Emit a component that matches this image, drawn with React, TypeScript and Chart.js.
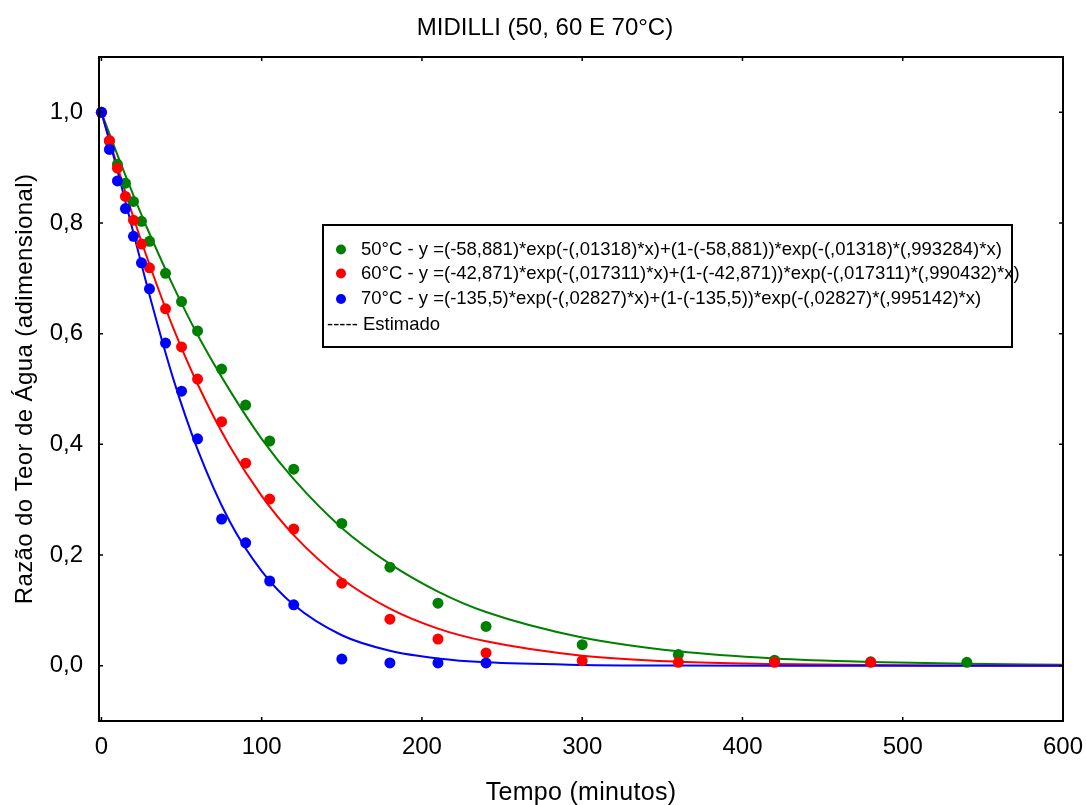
import React, { useEffect, useRef } from "react";
import { Chart, registerables } from "chart.js";

Chart.register(...registerables);

// ---- Text ----
const chartTitle = "MIDILLI (50, 60 E 70°C)";
const xAxisTitle = "Tempo (minutos)";
const yAxisTitle = "Razão do Teor de Água (adimensional)";
const legendLabels = [
  "50°C - y =(-58,881)*exp(-(,01318)*x)+(1-(-58,881))*exp(-(,01318)*(,993284)*x)",
  "60°C - y =(-42,871)*exp(-(,017311)*x)+(1-(-42,871))*exp(-(,017311)*(,990432)*x)",
  "70°C - y =(-135,5)*exp(-(,02827)*x)+(1-(-135,5))*exp(-(,02827)*(,995142)*x)",
];
const estimadoLabel = "----- Estimado";

// ---- Ticks ----
const xTicks = [0, 100, 200, 300, 400, 500, 600];
const yTicks = [0, 0.2, 0.4, 0.6, 0.8, 1.0];

// ---- Observed data ----
const time50 = [0, 5, 10, 15, 20, 25, 30, 40, 50, 60, 75, 90, 105, 120, 150, 180, 210, 240, 300, 360, 420, 480, 540];
const ratio50 = [1.0, 0.948, 0.906, 0.872, 0.839, 0.803, 0.767, 0.709, 0.658, 0.605, 0.536, 0.471, 0.406, 0.355, 0.257, 0.178, 0.113, 0.071, 0.038, 0.020, 0.010, 0.007, 0.006];

const time60 = [0, 5, 10, 15, 20, 25, 30, 40, 50, 60, 75, 90, 105, 120, 150, 180, 210, 240, 300, 360, 420, 480];
const ratio60 = [1.0, 0.949, 0.899, 0.848, 0.805, 0.762, 0.719, 0.645, 0.576, 0.518, 0.441, 0.366, 0.301, 0.247, 0.149, 0.084, 0.048, 0.023, 0.009, 0.006, 0.006, 0.006];

const time70 = [0, 5, 10, 15, 20, 25, 30, 40, 50, 60, 75, 90, 105, 120, 150, 180, 210, 240];
const ratio70 = [1.0, 0.933, 0.876, 0.826, 0.776, 0.728, 0.681, 0.583, 0.496, 0.410, 0.265, 0.222, 0.153, 0.110, 0.012, 0.005, 0.005, 0.005];

// ---- Estimated (fitted) curves ----
const fitTime = [0, 10, 20, 30, 45, 60, 80, 100, 120, 150, 180, 210, 240, 300, 360, 420, 480, 540, 600];
const fit50 = [1.0, 0.923, 0.850, 0.781, 0.685, 0.598, 0.498, 0.410, 0.337, 0.249, 0.184, 0.134, 0.097, 0.051, 0.026, 0.013, 0.0067, 0.0033, 0.0016];
const fit60 = [1.0, 0.902, 0.810, 0.725, 0.609, 0.509, 0.397, 0.307, 0.236, 0.157, 0.103, 0.067, 0.044, 0.018, 0.007, 0.003, 0.001, 0.0004, 0.0002];
const fit70 = [1.0, 0.895, 0.782, 0.670, 0.517, 0.391, 0.261, 0.171, 0.110, 0.055, 0.027, 0.013, 0.006, 0.0014, 0.0003, 0.0, 0.0, 0.0, 0.0];

const colors = ["#008000", "#ff0000", "#0000ff"];
const FONT = "'Liberation Sans', Arial, sans-serif";

const toXY = (xs: number[], ys: number[]) => xs.map((x, i) => ({ x, y: ys[i] }));

const frameAndLegendPlugin = {
  id: "frameAndLegend",
  afterDraw(chart: any) {
    const { ctx, chartArea, scales } = chart;
    const { left, right, top, bottom } = chartArea;
    ctx.save();
    // inward ticks
    ctx.strokeStyle = "#000";
    ctx.lineWidth = 1.5;
    const tl = 4;
    ctx.beginPath();
    xTicks.forEach((v) => {
      const px = scales.x.getPixelForValue(v);
      ctx.moveTo(px, bottom);
      ctx.lineTo(px, bottom - tl);
      ctx.moveTo(px, top);
      ctx.lineTo(px, top + tl);
    });
    yTicks.forEach((v) => {
      const py = scales.y.getPixelForValue(v);
      ctx.moveTo(left, py);
      ctx.lineTo(left + tl, py);
      ctx.moveTo(right, py);
      ctx.lineTo(right - tl, py);
    });
    ctx.stroke();
    // frame
    ctx.lineWidth = 2;
    ctx.strokeRect(left, top, right - left, bottom - top);

    // titles
    ctx.fillStyle = "#000";
    ctx.textBaseline = "middle";
    ctx.textAlign = "center";
    ctx.font = `24px ${FONT}`;
    (ctx as any).letterSpacing = "0px";
    ctx.fillText(chartTitle, 545, 28);

    ctx.font = `25px ${FONT}`;
    (ctx as any).letterSpacing = "0.3px";
    ctx.fillText(xAxisTitle, (left + right) / 2, 793);

    ctx.save();
    ctx.translate(25, (top + bottom) / 2);
    ctx.rotate(-Math.PI / 2);
    ctx.font = `24px ${FONT}`;
    (ctx as any).letterSpacing = "0.4px";
    ctx.fillText(yAxisTitle, 0, 0);
    ctx.restore();
    (ctx as any).letterSpacing = "0px";

    // legend box
    const bx = left + 224;
    const by = top + 168;
    const bw = 689;
    const bh = 122;
    ctx.fillStyle = "#fff";
    ctx.fillRect(bx, by, bw, bh);
    ctx.font = `18.5px ${FONT}`;
    ctx.textBaseline = "middle";
    ctx.textAlign = "left";
    const rowY = [24.5, 48.5, 74];
    legendLabels.forEach((label, i) => {
      const cy = by + rowY[i];
      ctx.fillStyle = colors[i];
      ctx.beginPath();
      ctx.arc(bx + 18, cy, 5, 0, Math.PI * 2);
      ctx.fill();
      ctx.fillStyle = "#000";
      ctx.fillText(label, bx + 38, cy);
    });
    ctx.fillStyle = "#000";
    ctx.fillText(estimadoLabel, bx + 4, by + 100);
    ctx.strokeStyle = "#000";
    ctx.lineWidth = 2;
    ctx.strokeRect(bx, by, bw, bh);
    ctx.restore();
  },
};

export default function App() {
  const canvasRef = useRef<HTMLCanvasElement | null>(null);

  useEffect(() => {
    if (!canvasRef.current) return;
    const pointSets = [
      { t: time50, r: ratio50 },
      { t: time60, r: ratio60 },
      { t: time70, r: ratio70 },
    ];
    const fitSets = [fit50, fit60, fit70];
    const datasets: any[] = [];
    pointSets.forEach((s, i) => {
      datasets.push({
        label: legendLabels[i],
        data: toXY(s.t, s.r),
        showLine: false,
        pointRadius: 5.5,
        pointHoverRadius: 5.5,
        pointBackgroundColor: colors[i],
        pointBorderColor: colors[i],
        pointBorderWidth: 0,
        borderColor: colors[i],
        backgroundColor: colors[i],
        clip: false,
        order: 2 - i,
      });
    });
    fitSets.forEach((f, i) => {
      datasets.push({
        label: "Estimado " + (i + 1),
        data: toXY(fitTime, f),
        showLine: true,
        pointRadius: 0,
        borderColor: colors[i],
        borderWidth: 2,
        fill: false,
        cubicInterpolationMode: "monotone",
        order: 5 - i,
      });
    });

    const chart = new Chart(canvasRef.current, {
      type: "line",
      data: { datasets },
      options: {
        animation: false,
        responsive: true,
        maintainAspectRatio: false,
        events: [],
        layout: { padding: { top: 57, right: 23, bottom: 0, left: 0 } },
        plugins: {
          legend: { display: false },
          tooltip: { enabled: false },
          title: { display: false },
        },
        scales: {
          x: {
            type: "linear",
            min: -1.5,
            max: 600,
            afterBuildTicks: (scale: any) => {
              scale.ticks = xTicks.map((v) => ({ value: v }));
            },
            afterFit: (scale: any) => {
              scale.height = 84;
              scale.paddingLeft = 0;
              scale.paddingRight = 0;
            },
            grid: { display: false, drawTicks: false },
            border: { display: false },
            ticks: {
              color: "#000",
              font: { family: FONT, size: 24 },
              padding: 12,
              maxRotation: 0,
              autoSkip: false,
              callback: (v: any) => String(v),
            },
            title: { display: false },
          },
          y: {
            type: "linear",
            min: -0.1,
            max: 1.1,
            afterBuildTicks: (scale: any) => {
              scale.ticks = yTicks.map((v) => ({ value: v }));
            },
            afterFit: (scale: any) => {
              scale.width = 99;
              scale.paddingTop = 0;
              scale.paddingBottom = 0;
            },
            grid: { display: false, drawTicks: false },
            border: { display: false },
            ticks: {
              color: "#000",
              font: { family: FONT, size: 24 },
              padding: 16,
              autoSkip: false,
              callback: (v: any) => Number(v).toFixed(1).replace(".", ","),
            },
            title: { display: false },
          },
        },
      } as any,
      plugins: [frameAndLegendPlugin],
    });
    return () => chart.destroy();
  }, []);

  return (
    <div style={{ position: "absolute", left: 0, top: 0, width: 1086, height: 805, background: "#fff" }}>
      <canvas ref={canvasRef} />
    </div>
  );
}
